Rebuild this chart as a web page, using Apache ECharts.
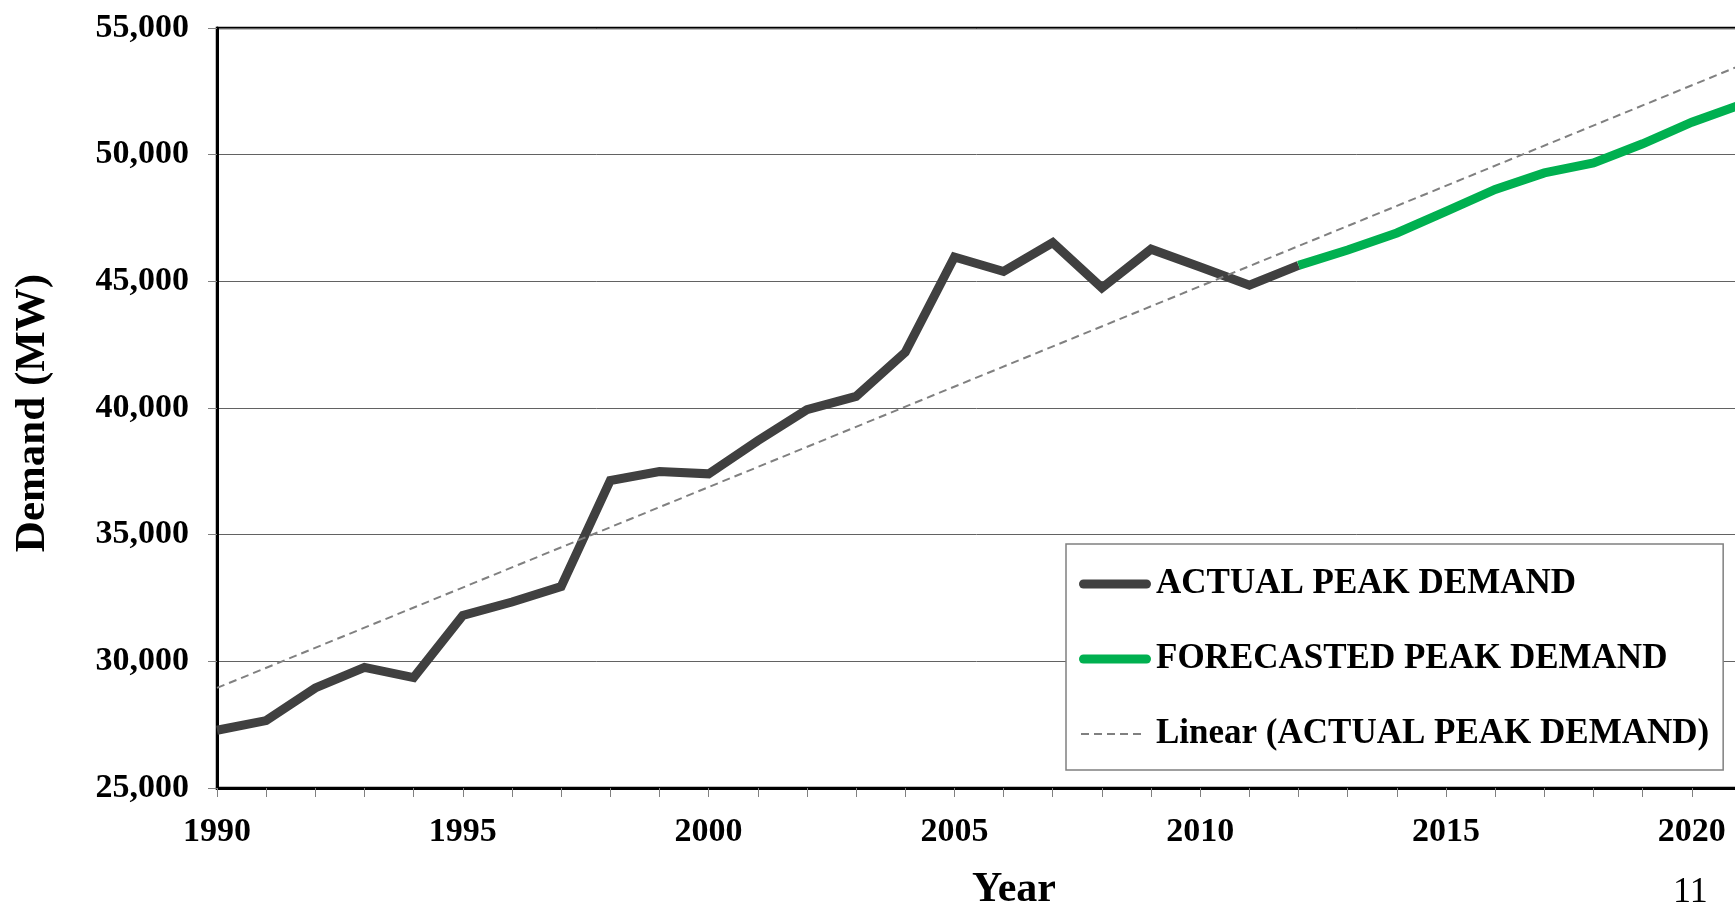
<!DOCTYPE html>
<html>
<head>
<meta charset="utf-8">
<script src="https://cdn.jsdelivr.net/npm/echarts@6/dist/echarts.min.js"></script>
<style>
  html, body { margin: 0; padding: 0; background: #ffffff; }
  #chart { width: 1735px; height: 906px; }
</style>
</head>
<body>
<div id="chart"></div>
<script>
// Categories (years) shown on the x axis
const years = ['1990','1991','1992','1993','1994','1995','1996','1997','1998','1999',
               '2000','2001','2002','2003','2004','2005','2006','2007','2008','2009',
               '2010','2011','2012','2013','2014','2015','2016','2017','2018','2019',
               '2020','2021'];

// Actual peak demand (MW), 1990-2012
const actualYears = ['1990','1991','1992','1993','1994','1995','1996','1997','1998','1999',
                     '2000','2001','2002','2003','2004','2005','2006','2007','2008','2009',
                     '2010','2011','2012'];
const actualValues = [27280, 27660, 28950, 29760, 29360, 31810, 32340, 32950, 37140, 37490,
                      37400, 38710, 39930, 40460, 42200, 45960, 45390, 46530, 44740, 46270,
                      45570, 44850, 45630];

// Forecasted peak demand (MW), 2012-2021
const forecastYears = ['2012','2013','2014','2015','2016','2017','2018','2019','2020','2021'];
const forecastValues = [45630, 46240, 46910, 47760, 48630, 49280, 49670, 50430, 51280, 51980];

// Linear trend of actual peak demand: endpoints
const trendYears = ['1990', '2021'];
const trendValues = [28950, 53530];

// Y axis ticks
const yMin = 25000, yMax = 55000, yStep = 5000;

const names = ['ACTUAL PEAK DEMAND', 'FORECASTED PEAK DEMAND', 'Linear (ACTUAL PEAK DEMAND)'];

const pair = (xs, vs) => xs.map((x, i) => [x, vs[i]]);

const FONT = '"Liberation Serif", "Times New Roman", serif';

// Legend icons drawn in a 72 x 9 box
const solidIcon = 'path://M4.5,0 L67.5,0 A4.5,4.5 0 0 1 67.5,9 L4.5,9 A4.5,4.5 0 0 1 4.5,0 Z';
const dashedIcon = 'path://M0,0 L0.01,0 L0.01,0.01 L0,0.01 Z ' +
  'M2,3.5 L10,3.5 L10,5.5 L2,5.5 Z M15,3.5 L23,3.5 L23,5.5 L15,5.5 Z ' +
  'M28,3.5 L36,3.5 L36,5.5 L28,5.5 Z M41,3.5 L49,3.5 L49,5.5 L41,5.5 Z ' +
  'M54,3.5 L62,3.5 L62,5.5 L54,5.5 Z M71.99,8.99 L72,8.99 L72,9 L71.99,9 Z';

const chart = echarts.init(document.getElementById('chart'), null, { renderer: 'canvas' });
chart.setOption({
  animation: false,
  backgroundColor: '#ffffff',
  textStyle: { fontFamily: FONT },
  grid: {
    left: 217, top: 28, bottom: 118, right: -6,
    containLabel: false,
    outerBoundsMode: 'none',
    show: true, borderColor: '#000000', borderWidth: 2.5, backgroundColor: 'transparent'
  },
  legend: {
    data: [
      { name: names[0], icon: solidIcon },
      { name: names[1], icon: solidIcon },
      { name: names[2], icon: dashedIcon }
    ],
    orient: 'vertical',
    left: 1066, top: 544,
    padding: [20, 14, 16, 13],
    backgroundColor: '#ffffff',
    borderColor: '#808080', borderWidth: 1.5,
    itemWidth: 72, itemHeight: 9, itemGap: 35, itemTextGap: 5,
    textStyle: { fontFamily: FONT, fontWeight: 'bold', fontSize: 35, color: '#000000', lineHeight: 40 }
  },
  xAxis: {
    type: 'category',
    data: years,
    boundaryGap: false,
    name: 'Year',
    nameLocation: 'middle',
    nameGap: 81,
    nameTextStyle: { fontFamily: FONT, fontWeight: 'bold', fontSize: 42, color: '#000000', padding: [0, 0, 0, 70] },
    axisLine: { show: true, lineStyle: { color: '#000000', width: 3 } },
    axisTick: { show: true, interval: 0, length: 9, lineStyle: { color: '#808080', width: 1 } },
    axisLabel: {
      interval: (i) => i % 5 === 0, margin: 27,
      fontFamily: FONT, fontWeight: 'bold', fontSize: 34, color: '#000000'
    },
    splitLine: { show: false }
  },
  yAxis: {
    type: 'value',
    min: yMin, max: yMax, interval: yStep,
    name: 'Demand (MW)',
    nameLocation: 'middle',
    nameGap: 163,
    nameTextStyle: { fontFamily: FONT, fontWeight: 'bold', fontSize: 43, color: '#000000', padding: [0, 10, 0, 0] },
    axisLine: { show: true, lineStyle: { color: '#000000', width: 3 } },
    axisTick: { show: true, length: 9, lineStyle: { color: '#808080', width: 1 } },
    axisLabel: {
      margin: 28,
      fontFamily: FONT, fontWeight: 'bold', fontSize: 34, color: '#000000',
      formatter: v => v.toLocaleString('en-US')
    },
    splitLine: { show: true, lineStyle: { color: '#626262', width: 1 } }
  },
  series: [
    {
      name: names[0],
      type: 'line',
      data: pair(actualYears, actualValues),
      symbol: 'none',
      lineStyle: { color: '#404040', width: 9, join: 'miter' },
      itemStyle: { color: '#404040' },
      z: 3
    },
    {
      name: names[1],
      type: 'line',
      data: pair(forecastYears, forecastValues),
      symbol: 'none',
      lineStyle: { color: '#00B050', width: 9, join: 'miter' },
      itemStyle: { color: '#00B050' },
      z: 4
    },
    {
      name: names[2],
      type: 'line',
      data: pair(trendYears, trendValues),
      symbol: 'none',
      lineStyle: { color: '#808080', width: 2, type: [8, 5] },
      itemStyle: { color: '#808080' },
      z: 5
    }
  ],
  graphic: [
    {
      type: 'text',
      left: 1673, top: 875,
      style: { text: '11', fontFamily: FONT, fontSize: 36, fill: '#000000' }
    }
  ]
});
</script>
</body>
</html>
